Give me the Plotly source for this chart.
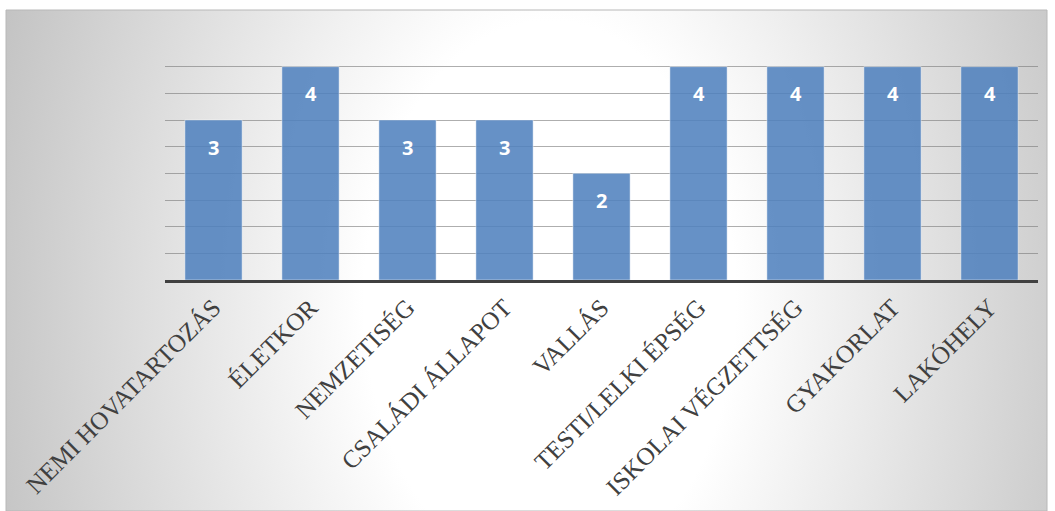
import base64
import plotly.graph_objects as go

# Kategóriák és értékek
categories = [
    "NEMI HOVATARTOZÁS", "ÉLETKOR", "NEMZETISÉG", "CSALÁDI ÁLLAPOT", "VALLÁS",
    "TESTI/LELKI ÉPSÉG", "ISKOLAI VÉGZETTSÉG", "GYAKORLAT", "LAKÓHELY",
]
values = [3, 4, 3, 3, 2, 4, 4, 4, 4]

W, H = 1055, 511
L, R, T, B = 165, 17, 40, 231
pw, ph = W - L - R, H - T - B

# Chart-area box in pixels
bx0, by0, bx1, by1 = 6, 10, 1047, 511
bw, bh = bx1 - bx0, by1 - by0

# Radial gradient background (white centre fading to grey at the sides)
gcx, gcy = 544, 290
svg = (
    f'<svg xmlns="http://www.w3.org/2000/svg" width="{bw}" height="{bh}" '
    f'viewBox="0 0 {bw} {bh}" preserveAspectRatio="none">'
    f'<defs><radialGradient id="g" gradientUnits="userSpaceOnUse" '
    f'cx="{gcx}" cy="{gcy}" r="620" '
    f'gradientTransform="translate({gcx} {gcy}) scale(1 1.5) translate({-gcx} {-gcy})">'
    '<stop offset="0" stop-color="#ffffff"/>'
    '<stop offset="0.3" stop-color="#ffffff"/>'
    '<stop offset="1" stop-color="#bdbdbd"/>'
    '</radialGradient></defs>'
    f'<rect width="{bw}" height="{bh}" fill="url(#g)"/></svg>'
)
bg_src = "data:image/svg+xml;base64," + base64.b64encode(svg.encode()).decode()


def px_to_paper_x(px):
    return (px - L) / pw


def px_to_paper_y(py):
    return (H - B - py) / ph


fig = go.Figure()
fig.add_trace(go.Bar(
    x=categories,
    y=values,
    marker=dict(color="rgba(79,129,189,0.87)",
                line=dict(color="rgba(255,255,255,0.45)", width=1)),
    hoverinfo="skip",
))

annotations = [
    dict(x=c, y=v, xref="x", yref="y", text=str(v), showarrow=False,
         yanchor="middle", yshift=-27,
         font=dict(family="Open Sans", size=20, color="white", weight="bold"))
    for c, v in zip(categories, values)
]

fig.update_layout(
    width=W, height=H,
    margin=dict(l=L, r=R, t=T, b=B, pad=0),
    paper_bgcolor="white",
    plot_bgcolor="rgba(0,0,0,0)",
    showlegend=False,
    bargap=0.41,
    annotations=annotations,
    images=[dict(
        source=bg_src, xref="paper", yref="paper",
        x=px_to_paper_x(bx0), y=px_to_paper_y(by0),
        sizex=bw / pw, sizey=bh / ph,
        xanchor="left", yanchor="top", sizing="stretch", layer="below",
    )],
    shapes=[dict(
        type="rect", xref="paper", yref="paper",
        x0=px_to_paper_x(bx0), x1=px_to_paper_x(bx1),
        y0=px_to_paper_y(by1), y1=px_to_paper_y(by0),
        line=dict(color="#b8b8b8", width=1), layer="below",
    )],
    xaxis=dict(
        tickangle=-45, automargin=False,
        tickfont=dict(family="Liberation Serif", size=25, color="#404040"),
        showline=True, linecolor="#404040", linewidth=3,
        ticks="", showgrid=False,
    ),
    yaxis=dict(
        range=[0, 4.5], dtick=0.5, showticklabels=False, automargin=False,
        showgrid=True, gridcolor="rgba(120,120,120,0.6)", gridwidth=1,
        zeroline=False, showline=False, ticks="",
    ),
)

fig.write_html("out.html")
